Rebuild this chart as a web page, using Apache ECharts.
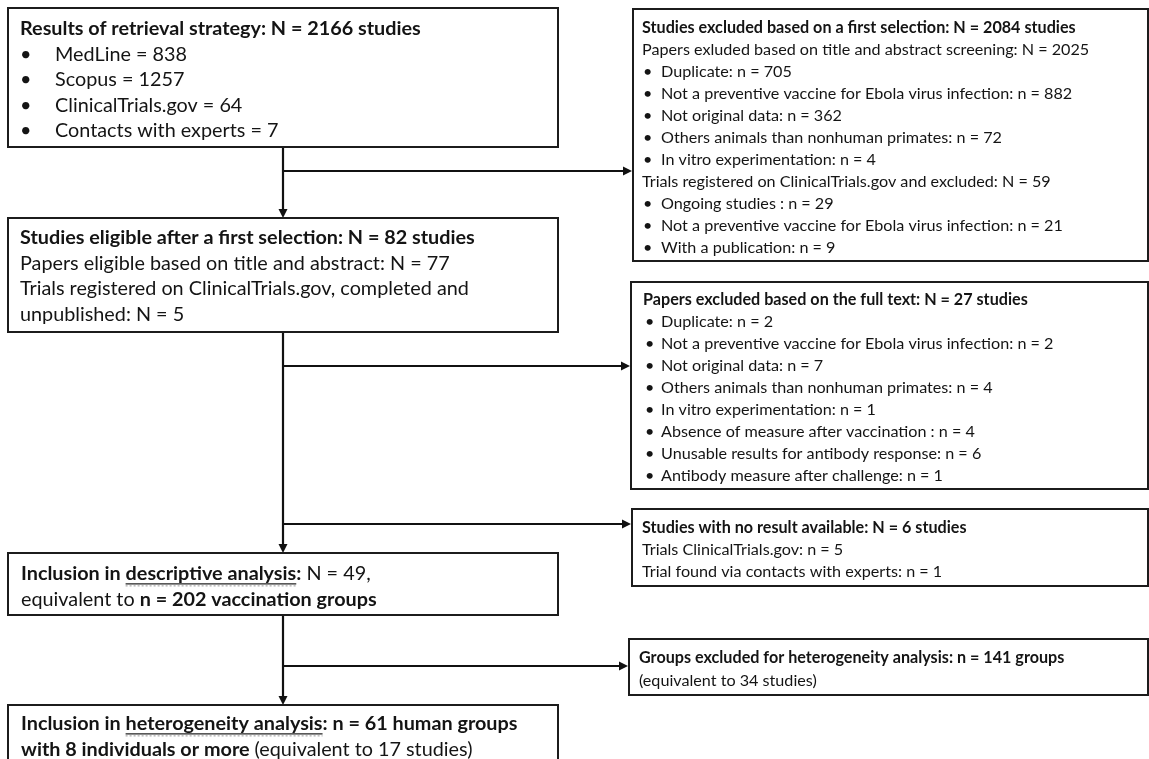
<!DOCTYPE html>
<html>
<head>
<meta charset="utf-8">
<script src="https://cdn.jsdelivr.net/npm/echarts@6/dist/echarts.min.js"></script>
<style>
html,body{margin:0;padding:0;background:#fff;}
#chart{width:1149px;height:759px;}
</style>
</head>
<body>
<div id="chart"></div>
<script>
// ---------------- DATA ----------------
const retrievalTotal = 2166;
const retrievalSources = ['MedLine', 'Scopus', 'ClinicalTrials.gov', 'Contacts with experts'];
const retrievalCounts = [838, 1257, 64, 7];

const firstExclTotal = 2084;
const papersExclTotal = 2025;
const papersExclReasons = ['Duplicate', 'Not a preventive vaccine for Ebola virus infection', 'Not original data', 'Others animals than nonhuman primates', 'In vitro experimentation'];
const papersExclCounts = [705, 882, 362, 72, 4];
const trialsExclTotal = 59;
const trialsExclReasons = ['Ongoing studies ', 'Not a preventive vaccine for Ebola virus infection', 'With a publication'];
const trialsExclCounts = [29, 21, 9];

const eligibleTotal = 82;
const eligiblePapers = 77;
const eligibleTrials = 5;

const fullTextExclTotal = 27;
const fullTextExclReasons = ['Duplicate', 'Not a preventive vaccine for Ebola virus infection', 'Not original data', 'Others animals than nonhuman primates', 'In vitro experimentation', 'Absence of measure after vaccination ', 'Unusable results for antibody response', 'Antibody measure after challenge'];
const fullTextExclCounts = [2, 2, 7, 4, 1, 4, 6, 1];

const noResultTotal = 6;
const noResultTrials = 5;
const noResultExperts = 1;

const descriptiveStudies = 49;
const descriptiveGroups = 202;

const heteroExclGroups = 141;
const heteroExclStudies = 34;

const heteroGroups = 61;
const heteroMinIndividuals = 8;
const heteroStudies = 17;

// ---------------- TEXT OF BOXES ----------------
const L = (segs, bullet) => ({ segs: segs, bullet: !!bullet });
const boxLines = [
  // A: retrieval
  [L([['Results of retrieval strategy: N = ' + retrievalTotal + ' studies', 'b']])]
    .concat(retrievalSources.map((s, i) => L([[s + ' = ' + retrievalCounts[i], 'r']], true))),
  // B: first exclusion
  [L([['Studies excluded based on a first selection: N = ' + firstExclTotal + ' studies', 'b']]),
   L([['Papers exluded based on title and abstract screening: N = ' + papersExclTotal, 'r']])]
    .concat(papersExclReasons.map((s, i) => L([[s + ': n = ' + papersExclCounts[i], 'r']], true)))
    .concat([L([['Trials registered on ClinicalTrials.gov and excluded: N = ' + trialsExclTotal, 'r']])])
    .concat(trialsExclReasons.map((s, i) => L([[s + ': n = ' + trialsExclCounts[i], 'r']], true))),
  // C: eligible
  [L([['Studies eligible after a first selection: N = ' + eligibleTotal + ' studies', 'b']]),
   L([['Papers eligible based on title and abstract: N = ' + eligiblePapers, 'r']]),
   L([['Trials registered on ClinicalTrials.gov, completed and', 'r']]),
   L([['unpublished: N = ' + eligibleTrials, 'r']])],
  // D: full text exclusion
  [L([['Papers excluded based on the full text: N = ' + fullTextExclTotal + ' studies', 'b']])]
    .concat(fullTextExclReasons.map((s, i) => L([[s + ': n = ' + fullTextExclCounts[i], 'r']], true))),
  // E: no result
  [L([['Studies with no result available: N = ' + noResultTotal + ' studies', 'b']]),
   L([['Trials ClinicalTrials.gov: n = ' + noResultTrials, 'r']]),
   L([['Trial found via contacts with experts: n = ' + noResultExperts, 'r']])],
  // F: descriptive
  [L([['Inclusion in ', 'b'], ['descriptive analysis', 'bu'], [':', 'b'], [' N = ' + descriptiveStudies + ',', 'r']]),
   L([['equivalent to ', 'r'], ['n = ' + descriptiveGroups + ' vaccination groups', 'b']])],
  // G: heterogeneity exclusion
  [L([['Groups excluded for heterogeneity analysis: n = ' + heteroExclGroups + ' groups', 'b']]),
   L([['(equivalent to ' + heteroExclStudies + ' studies)', 'r']])],
  // H: heterogeneity inclusion
  [L([['Inclusion in ', 'b'], ['heterogeneity analysis', 'bu'], [': n = ' + heteroGroups + ' human groups', 'b']]),
   L([['with ' + heteroMinIndividuals + ' individuals or more', 'b'], [' (equivalent to ' + heteroStudies + ' studies)', 'r']])]
];

// ---------------- LAYOUT (geometry, in chart units = px) ----------------
const boxLayout = [
  { x0: 8,   y0: 8,   x1: 558,  y1: 147, tx: 20,  firstY: 29,  lh: 25.5, size: 'big',   bulletX: 20,  itemX: 55 },
  { x0: 633, y0: 9,   x1: 1148, y1: 261, tx: 642, firstY: 28,  lh: 22,   size: 'small', bulletX: 643, itemX: 661 },
  { x0: 8,   y0: 218, x1: 558,  y1: 332, tx: 20,  firstY: 238, lh: 25.5, size: 'big' },
  { x0: 631, y0: 282, x1: 1148, y1: 489, tx: 643, firstY: 300, lh: 22,   size: 'small', bulletX: 645, itemX: 661 },
  { x0: 632, y0: 509, x1: 1148, y1: 586, tx: 642, firstY: 528, lh: 22,   size: 'small' },
  { x0: 8,   y0: 553, x1: 558,  y1: 615, tx: 21,  firstY: 574, lh: 25.5, size: 'big' },
  { x0: 629, y0: 639, x1: 1148, y1: 695, tx: 639, firstY: 658, lh: 23,   size: 'small' },
  { x0: 8,   y0: 705, x1: 558,  y1: 795, tx: 21,  firstY: 724, lh: 25.5, size: 'big' }
];
const connectors = [
  { x0: 283, y0: 147, x1: 283, y1: 218 },
  { x0: 283, y0: 332, x1: 283, y1: 553 },
  { x0: 283, y0: 615, x1: 283, y1: 705 },
  { x0: 283, y0: 171, x1: 632, y1: 171 },
  { x0: 283, y0: 366, x1: 630, y1: 366 },
  { x0: 283, y0: 524, x1: 631, y1: 524 },
  { x0: 283, y0: 666, x1: 628, y1: 666 }
];

// ---------------- FONT FITTING ----------------
const FONT = 'Lato, "Open Sans", sans-serif';
const measureCtx = document.createElement('canvas').getContext('2d');
function textWidth(t, px, weight) {
  measureCtx.font = weight + ' ' + px + 'px ' + FONT;
  return measureCtx.measureText(t).width;
}
const bigPx = 100 * 455 / textWidth(boxLines[2][0].segs[0][0], 100, 'bold');
const smallPx = 100 * 434 / textWidth(boxLines[1][0].segs[0][0], 100, 'bold');
const INK = '#141414';

function renderBox(params, api) {
  const idx = api.value(2);
  const G = boxLayout[idx];
  const lines = boxLines[idx];
  const px = G.size === 'big' ? bigPx : smallPx;
  const tl = api.coord([G.x0, G.y0]);
  const br = api.coord([G.x1, G.y1]);
  const children = [{
    type: 'rect',
    shape: { x: tl[0], y: tl[1], width: br[0] - tl[0], height: br[1] - tl[1] },
    style: { fill: '#fff', stroke: '#1c1c1c', lineWidth: 2 }
  }];
  lines.forEach(function (line, k) {
    const y = api.coord([0, G.firstY + k * G.lh])[1];
    let cx = api.coord([line.bullet ? G.itemX : G.tx, 0])[0];
    if (line.bullet) {
      children.push({
        type: 'text',
        style: { text: '•', x: api.coord([G.bulletX, 0])[0], y: y, fontSize: px, fontFamily: FONT, fontWeight: 'normal', fill: INK, verticalAlign: 'middle', align: 'left' }
      });
    }
    line.segs.forEach(function (seg) {
      const t = seg[0], st = seg[1];
      const weight = st === 'r' ? 'normal' : 'bold';
      children.push({
        type: 'text',
        style: { text: t, x: cx, y: y, fontSize: px, fontFamily: FONT, fontWeight: weight, fill: INK, verticalAlign: 'middle', align: 'left' }
      });
      const w = textWidth(t, px, weight);
      if (st === 'bu') {
        const uy = y + px * 0.5;
        children.push({ type: 'line', shape: { x1: cx, y1: uy, x2: cx + w, y2: uy }, style: { stroke: '#222', lineWidth: 1.2 } });
        children.push({ type: 'line', shape: { x1: cx, y1: uy + 2, x2: cx + w, y2: uy + 2 }, style: { stroke: '#999', lineWidth: 1, lineDash: [2, 2] } });
      }
      cx += w;
    });
  });
  return { type: 'group', children: children };
}

function renderConnector(params, api) {
  const c = connectors[api.value(2)];
  const p0 = api.coord([c.x0, c.y0]);
  const p1 = api.coord([c.x1, c.y1]);
  const dx = p1[0] - p0[0], dy = p1[1] - p0[1];
  const len = Math.sqrt(dx * dx + dy * dy);
  const ux = dx / len, uy = dy / len;
  const ah = 9, aw = 4.5;
  const bx = p1[0] - ux * ah, by = p1[1] - uy * ah;
  return {
    type: 'group',
    children: [
      { type: 'line', shape: { x1: p0[0], y1: p0[1], x2: bx, y2: by }, style: { stroke: '#111', lineWidth: 2.2 } },
      { type: 'polygon', shape: { points: [[p1[0], p1[1]], [bx - uy * aw, by + ux * aw], [bx + uy * aw, by - ux * aw]] }, style: { fill: '#111' } }
    ]
  };
}

const chart = echarts.init(document.getElementById('chart'), null, { renderer: 'canvas' });
chart.setOption({
  animation: false,
  backgroundColor: '#fff',
  grid: { left: 0, right: 0, top: 0, bottom: 0 },
  xAxis: { type: 'value', min: 0, max: 1149, show: false },
  yAxis: { type: 'value', min: 0, max: 759, inverse: true, show: false },
  series: [
    {
      type: 'custom',
      name: 'connectors',
      renderItem: renderConnector,
      clip: false,
      encode: { x: 0, y: 1 },
      data: connectors.map(function (c, i) { return [c.x0, c.y0, i]; }),
      z: 1
    },
    {
      type: 'custom',
      name: 'boxes',
      renderItem: renderBox,
      clip: false,
      encode: { x: 0, y: 1 },
      data: boxLayout.map(function (b, i) { return [b.x0, b.y0, i]; }),
      z: 2
    }
  ]
});
</script>
</body>
</html>
